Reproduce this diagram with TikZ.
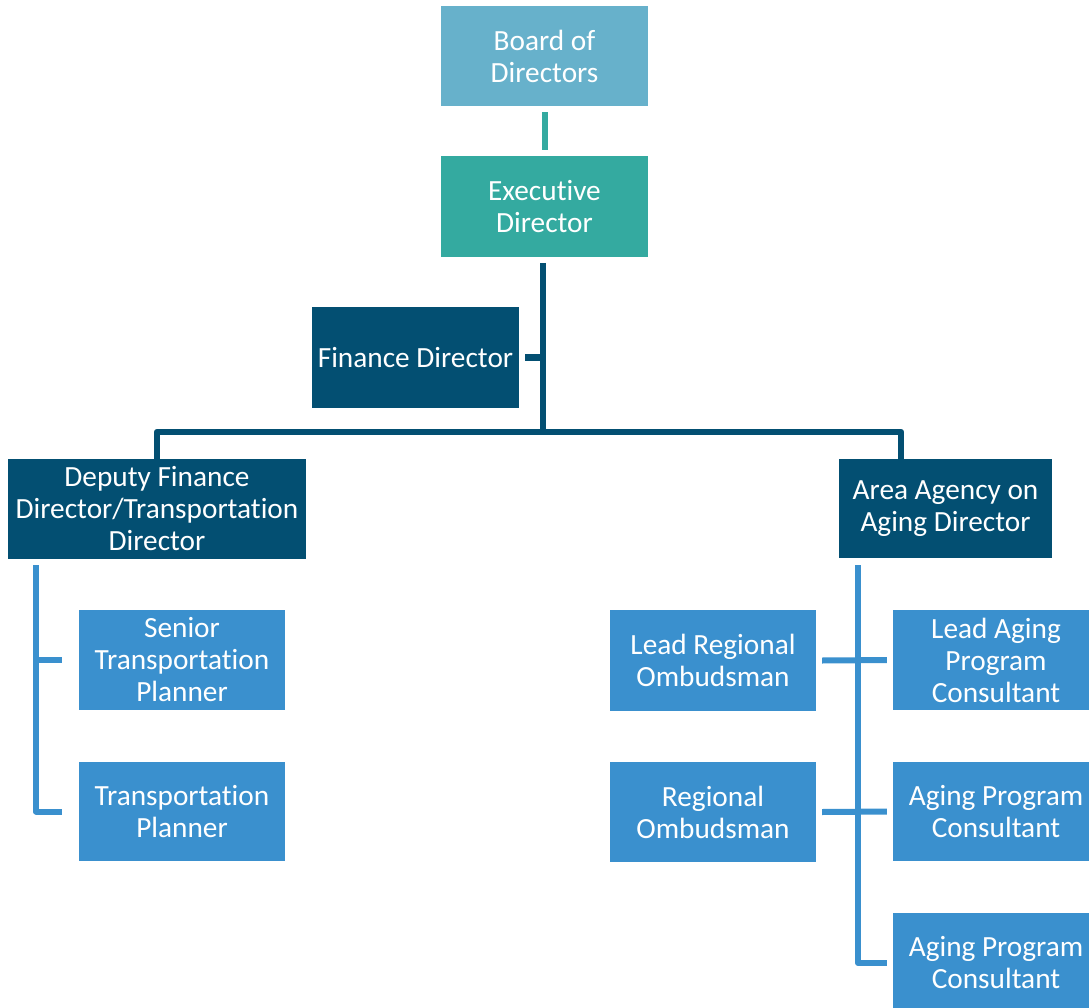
\documentclass[tikz,border=0pt]{standalone}
\usepackage{fontspec}
\setmainfont{Carlito}[Ligatures=NoCommon]
\definecolor{cBoard}{HTML}{67B1CB}
\definecolor{cExec}{HTML}{34AAA0}
\definecolor{cDark}{HTML}{034F72}
\definecolor{cLight}{HTML}{3A90CE}
\tikzset{
  box/.style={rectangle, inner sep=0pt, align=center, text=white,
    font=\fontsize{29.3}{32}\selectfont},
  dk/.style={draw=cDark, line width=6.5pt, line join=round},
  lt/.style={draw=cLight, line width=6pt, line join=round},
  tl/.style={draw=cExec, line width=6pt},
}
\begin{document}
\begin{tikzpicture}[x=1pt,y=-1pt]
\useasboundingbox (0,0) rectangle (1089,1008);
% nodes
\node[box, fill=cBoard, minimum width=207, minimum height=100] (board) at (544.5,56) {Board of\\Directors};
\node[box, fill=cExec, minimum width=207, minimum height=101] (exec) at (544.5,206.5) {Executive\\Director};
\node[box, fill=cDark, minimum width=207, minimum height=101] (fin) at (415.5,357.5) {Finance Director};
\node[box, fill=cDark, minimum width=298, minimum height=100] (dep) at (157,509) {Deputy Finance\\Director/Transportation\\Director};
\node[box, fill=cDark, minimum width=213, minimum height=99] (aaa) at (945.5,508.5) {Area Agency on\\Aging Director};
\node[box, fill=cLight, minimum width=206, minimum height=100] (stp) at (182,660) {Senior\\Transportation\\Planner};
\node[box, fill=cLight, minimum width=206, minimum height=99] (tp) at (182,811.5) {Transportation\\Planner};
\node[box, fill=cLight, minimum width=206, minimum height=101] (lro) at (713,660.5) {Lead Regional\\Ombudsman};
\node[box, fill=cLight, minimum width=206, minimum height=100] (ro) at (713,812) {Regional\\Ombudsman};
\node[box, fill=cLight, minimum width=206, minimum height=100] (lapc) at (996,660) {Lead Aging\\Program\\Consultant};
\node[box, fill=cLight, minimum width=206, minimum height=99] (apc1) at (996,811.5) {Aging Program\\Consultant};
\node[box, fill=cLight, minimum width=206, minimum height=100] (apc2) at (996,963) {Aging Program\\Consultant};
% junction coordinates
\coordinate (bar) at (543,432);
\coordinate (rdrop) at (901,432);
\coordinate (ltop) at (36,565);
\coordinate (rtop) at (858,565);
% connectors
\draw[tl] ([yshift=-6pt]board.south) -- ([yshift=6pt]exec.north);
\draw[dk] (543,263) -- (bar);
\draw[dk] ([xshift=6pt]fin.east) -- (fin.east -| bar);
\draw[dk] ([yshift=-7pt]dep.north) |- (bar) -- (rdrop) -- ([yshift=-7pt]rdrop |- aaa.north);
\draw[lt] (ltop) |- ([xshift=-17pt]tp.west);
\draw[lt] (ltop |- stp.west) -- ([xshift=-17pt]stp.west);
\draw[lt] (rtop) |- ([xshift=-6pt]apc2.west);
\draw[lt] ([xshift=6pt]lro.east) -- ([xshift=-6pt]lapc.west);
\draw[lt] ([xshift=6pt]ro.east) -- ([xshift=-6pt]apc1.west);
\end{tikzpicture}
\end{document}
